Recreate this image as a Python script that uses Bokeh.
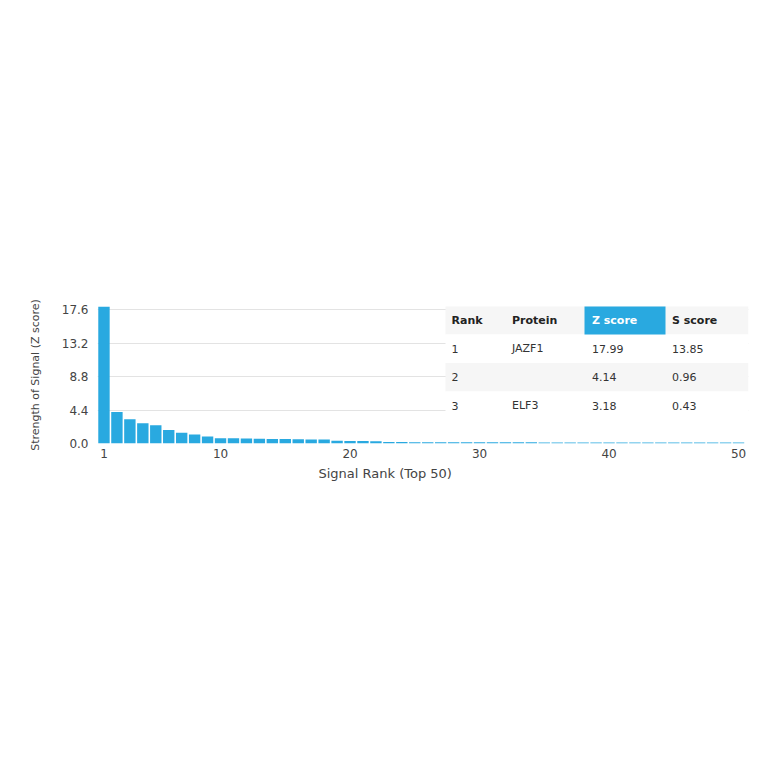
from bokeh.plotting import figure
from bokeh.models import FixedTicker, PrintfTickFormatter, Range1d, Title
from bokeh.core.properties import value
from bokeh.embed import file_html
from bokeh.resources import INLINE

# ---------------- data ----------------
ranks = list(range(1, 51))
z_scores = [17.99, 4.14, 3.18, 2.66, 2.40, 1.78, 1.40, 1.18, 0.92, 0.70,
            0.68, 0.67, 0.62, 0.60, 0.58, 0.56, 0.54, 0.52, 0.36, 0.34,
            0.32, 0.30, 0.20, 0.19, 0.17, 0.17, 0.16, 0.16, 0.16, 0.15,
            0.15, 0.15, 0.15, 0.15, 0.14, 0.14, 0.14, 0.14, 0.14, 0.14,
            0.13, 0.13, 0.13, 0.13, 0.13, 0.13, 0.12, 0.12, 0.12, 0.12]
x_ticks = [1, 10, 20, 30, 40, 50]
y_ticks = [0.0, 4.4, 8.8, 13.2, 17.6]

table_header = ["Rank", "Protein", "Z score", "S score"]
table_rank = ["1", "2", "3"]
table_protein = ["JAZF1", "", "ELF3"]
table_z = ["17.99", "4.14", "3.18"]
table_s = ["13.85", "0.96", "0.43"]

x_title = "Signal Rank (Top 50)"
y_title = "Strength of Signal (Z score)"

# ---------------- layout ----------------
BAR_COLOR = "#29a9e0"
FONT = value("DejaVu Sans")
X_START, X_END = 0.5, 50.77
Y_START, Y_END = 0.0, 18.0
LEFT, RIGHT, TOP, BOTTOM = 97, 8, 306, 313
W, H = 756, 756
FW = W - LEFT - RIGHT
FH = H - TOP - BOTTOM
XPPU = FW / (X_END - X_START)
YPPU = FH / (Y_END - Y_START)
PAGE_FRAME_LEFT = LEFT
PAGE_FRAME_BOTTOM = TOP + FH


def px_x(px):
    return X_START + (px - PAGE_FRAME_LEFT) / XPPU


def px_y(py):
    return Y_START + (PAGE_FRAME_BOTTOM - py) / YPPU


p = figure(width=W, height=H, output_backend="svg", toolbar_location=None,
           x_range=Range1d(X_START, X_END), y_range=Range1d(Y_START, Y_END),
           min_border_left=LEFT, min_border_right=RIGHT,
           min_border_top=TOP, min_border_bottom=BOTTOM)
p.outline_line_color = None
p.background_fill_color = "white"

p.vbar(x=ranks, top=z_scores, width=0.88, fill_color=BAR_COLOR, line_color=None)

# axes
for ax in (p.xaxis[0], p.yaxis[0]):
    ax.axis_line_color = None
    ax.major_tick_line_color = None
    ax.minor_tick_line_color = None
    ax.major_tick_in = 0
    ax.major_tick_out = 0
    ax.minor_tick_in = 0
    ax.minor_tick_out = 0
    ax.major_label_text_font = "DejaVu Sans"
    ax.major_label_text_font_size = "12px"
    ax.major_label_text_color = "#444444"
    ax.axis_label_text_font = "DejaVu Sans"
    ax.axis_label_text_font_style = "normal"
    ax.axis_label_text_color = "#444444"

p.xaxis.ticker = FixedTicker(ticks=x_ticks)
p.xaxis.major_label_standoff = 5

p.yaxis.ticker = FixedTicker(ticks=y_ticks)
p.yaxis.formatter = PrintfTickFormatter(format="%.1f")
p.yaxis.major_label_standoff = 9
p.yaxis.axis_label = y_title
p.yaxis.axis_label_text_font_size = "11px"
p.yaxis.axis_label_standoff = 17

p.xgrid.grid_line_color = None
p.ygrid.grid_line_color = "#e3e3e3"
p.ygrid.grid_line_width = 1

# x axis title, placed left of centre as in the reference
p.add_layout(Title(text=x_title, align="left", offset=386 - 68 - LEFT,
                   text_font="DejaVu Sans", text_font_size="13px",
                   text_font_style="normal", text_color="#444444",
                   standoff=7), "below")

# ---------------- table ----------------
t_left, t_right = px_x(445), px_x(748)
row_edges = [305.5, 334.0, 362.5, 391.0, 419.5]
row_fill = ["#f6f6f6", "#ffffff", "#f6f6f6", "#ffffff"]
p.quad(left=[t_left] * 4, right=[t_right] * 4,
       top=[px_y(a) for a in row_edges[:-1]],
       bottom=[px_y(b) for b in row_edges[1:]],
       fill_color=row_fill, line_color=None)
# highlighted header cell
p.quad(left=[px_x(584)], right=[px_x(665)], top=[px_y(305.5)], bottom=[px_y(334.0)],
       fill_color=BAR_COLOR, line_color=None)

col_x = [px_x(451), px_x(511.5), px_x(591.5), px_x(671.5)]
row_cy = [px_y((row_edges[i] + row_edges[i + 1]) / 2) for i in range(4)]

p.text(x=col_x, y=[row_cy[0]] * 4, text=table_header,
       text_color=["#222222", "#222222", "#ffffff", "#222222"],
       text_font=FONT, text_font_size="11px", text_font_style="bold",
       text_baseline="middle", text_align="left")

cells_x, cells_y, cells_t = [], [], []
for i in range(3):
    for j, col in enumerate([table_rank, table_protein, table_z, table_s]):
        if col[i]:
            cells_x.append(col_x[j])
            cells_y.append(row_cy[i + 1])
            cells_t.append(col[i])
p.text(x=cells_x, y=cells_y, text=cells_t, text_color="#333333",
       text_font=FONT, text_font_size="11px",
       text_baseline="middle", text_align="left")

open("out.html", "w").write(file_html(p, INLINE))
